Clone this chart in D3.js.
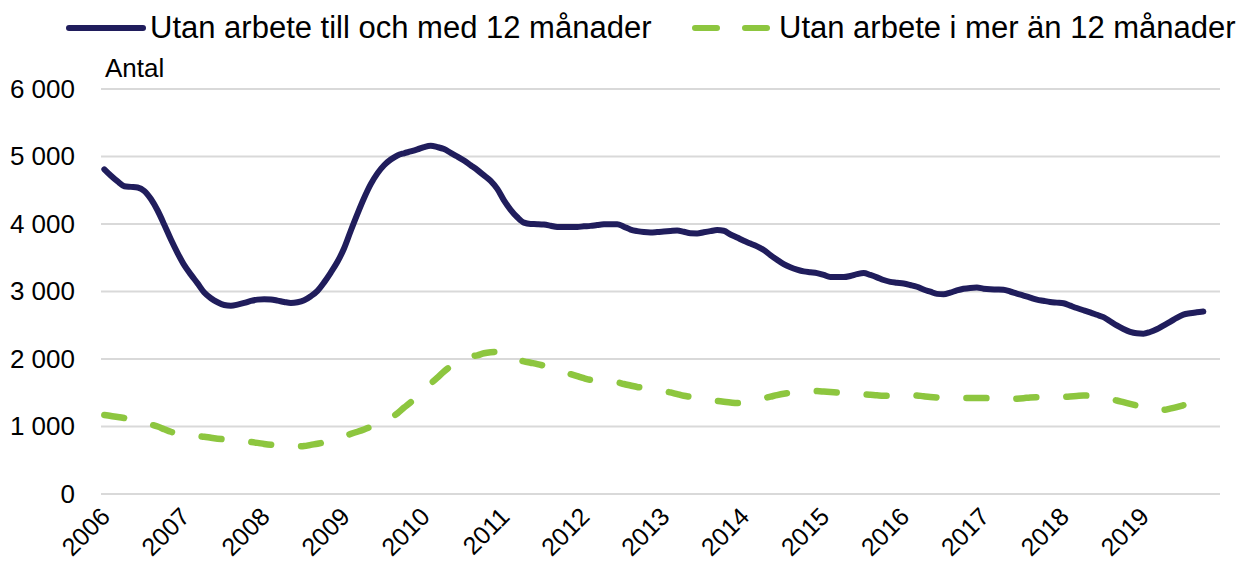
<!DOCTYPE html>
<html>
<head>
<meta charset="utf-8">
<script src="https://cdn.jsdelivr.net/npm/d3@7"></script>
<style>
  body { margin: 0; background: #fff; }
  svg { display: block; font-family: "Liberation Sans", Arial, sans-serif; }
  .grid line { stroke: #d9d9d9; stroke-width: 2; }
</style>
</head>
<body>
<svg class="chart"></svg>
<script>
// categories: months Jan 2006 - Dec 2019
var years = d3.range(2006, 2020).map(String);
var months = [];
years.forEach(function(y) {
  for (var m = 1; m <= 12; m++) months.push(y + "-" + (m < 10 ? "0" + m : m));
});

// Utan arbete till och med 12 månader (monthly, from 2006-01)
var shortTerm = [
  4810, 4715, 4630, 4560, 4550, 4540, 4490, 4370, 4200, 3990, 3770, 3570,
  3390, 3250, 3120, 2985, 2900, 2840, 2800, 2790, 2805, 2830, 2860, 2880,
  2887, 2882, 2865, 2845, 2830, 2840, 2870, 2930, 3010, 3135, 3280, 3440,
  3640, 3900, 4150, 4385, 4590, 4750, 4870, 4955, 5015, 5048, 5075, 5105,
  5140, 5160, 5140, 5110, 5055, 5000, 4940, 4870, 4800, 4720, 4640, 4520,
  4350, 4210, 4100, 4020, 4000, 3998, 3992, 3975, 3956, 3954, 3954, 3956,
  3965, 3972, 3985, 3995, 3998, 3998, 3960, 3918, 3895, 3880, 3874, 3880,
  3888, 3896, 3903, 3885, 3862, 3860, 3878, 3895, 3910, 3900, 3845, 3800,
  3752, 3710, 3668, 3615, 3540, 3470, 3405, 3360, 3325, 3298, 3285, 3273,
  3245, 3215, 3213, 3213, 3230, 3258, 3275, 3245, 3210, 3170, 3143, 3130,
  3118, 3096, 3070, 3030, 2997, 2965, 2960, 2983, 3015, 3040, 3053, 3058,
  3042, 3033, 3030, 3026, 3000, 2968, 2940, 2910, 2880, 2862, 2845, 2835,
  2825, 2790, 2755, 2722, 2690, 2655, 2620, 2560, 2497, 2445, 2402, 2380,
  2375, 2400, 2440, 2495, 2550, 2610, 2658, 2678, 2692, 2704
];

// Utan arbete i mer än 12 månader
var longTerm = [
  1170, 1155, 1142, 1126, 1105, 1078, 1052, 1028, 1000, 960, 922, 900,
  882, 870, 858, 848, 833, 820, 809, 798, 788, 779, 770, 757,
  742, 730, 722, 715, 708, 704, 710, 728, 745, 765, 795, 826,
  860, 890, 922, 956, 995, 1040, 1090, 1130, 1195, 1280, 1360, 1450,
  1540, 1635, 1725, 1815, 1890, 1950, 1995, 2035, 2055, 2085, 2100, 2105,
  2080, 2030, 1990, 1965, 1945, 1925, 1900, 1870, 1835, 1805, 1775, 1745,
  1715, 1690, 1680, 1672, 1665, 1655, 1630, 1608, 1586, 1570, 1552, 1535,
  1522, 1505, 1480, 1455, 1438, 1420, 1405, 1392, 1380, 1368, 1356, 1347,
  1360, 1380, 1400, 1420, 1442, 1465, 1485, 1500, 1510, 1520, 1527, 1525,
  1518, 1510, 1503, 1495, 1488, 1480, 1477, 1470, 1462, 1456, 1457, 1462,
  1468, 1470, 1460, 1448, 1437, 1430, 1427, 1424, 1422, 1421, 1421, 1421,
  1421, 1419, 1414, 1410, 1406, 1412, 1420, 1430, 1435, 1435, 1435, 1435,
  1438, 1445, 1452, 1458, 1455, 1440, 1422, 1406, 1385, 1360, 1335, 1310,
  1285, 1262, 1242, 1245, 1265, 1288, 1315
];

var yTicks = [0, 1000, 2000, 3000, 4000, 5000, 6000];
var seriesNames = ["Utan arbete till och med 12 månader", "Utan arbete i mer än 12 månader"];
var colors = ["#201d5c", "#8dc63f"];

var W = 1243, H = 572;
var margin = {top: 89, right: 23, bottom: 78, left: 101},
    width = W - margin.left - margin.right,
    height = H - margin.top - margin.bottom;

var svg = d3.select(".chart").attr("width", W).attr("height", H);
var g = svg.append("g").attr("transform", "translate(" + margin.left + "," + margin.top + ")");

var x = d3.scaleBand().domain(months).range([0, width]);
var y = d3.scaleLinear().domain([0, 6000]).range([height, 0]);
var xc = function(i) { return x(months[i]) + x.bandwidth() / 2; };

var sv = d3.formatLocale({decimal: ",", thousands: "\u00a0", grouping: [3], currency: ["", " kr"]}).format(",");

// gridlines
g.append("g").attr("class", "grid")
  .selectAll("line").data(yTicks).enter().append("line")
    .attr("x1", 0).attr("x2", width)
    .attr("y1", function(d) { return y(d); })
    .attr("y2", function(d) { return y(d); });

// y labels
var yAxis = d3.axisLeft(y).tickValues(yTicks).tickSize(0).tickPadding(26).tickFormat(sv);
g.append("g").call(yAxis)
  .call(function(a) { a.select(".domain").remove(); })
  .selectAll("text").attr("font-size", 26).attr("fill", "#000")
  .attr("font-family", "Liberation Sans, Arial, sans-serif");

// x labels (one per year)
var xAxis = d3.axisBottom(x).tickValues(years.map(function(yr) { return yr + "-01"; }))
  .tickSize(0).tickFormat(function(d) { return d.slice(0, 4); });
g.append("g").attr("transform", "translate(0," + height + ")").call(xAxis)
  .call(function(a) { a.select(".domain").remove(); })
  .selectAll("text")
    .attr("font-size", 25).attr("fill", "#000")
    .attr("font-family", "Liberation Sans, Arial, sans-serif")
    .attr("text-anchor", "end")
    .attr("transform", "translate(1,18) rotate(-45)")
    .attr("dy", "0.35em").attr("y", 0);

// unit label
g.append("text").attr("x", 4).attr("y", -12).attr("font-size", 26).text("Antal");

var line = d3.line()
  .x(function(d, i) { return xc(i); })
  .y(function(d) { return y(d); })
  .curve(d3.curveMonotoneX);

g.append("path").datum(shortTerm)
  .attr("d", line).attr("fill", "none")
  .attr("stroke", colors[0]).attr("stroke-width", 6)
  .attr("stroke-linecap", "round").attr("stroke-linejoin", "round");

g.append("path").datum(longTerm)
  .attr("d", line).attr("fill", "none")
  .attr("stroke", colors[1]).attr("stroke-width", 6.5)
  .attr("stroke-dasharray", "20,30")
  .attr("stroke-linecap", "round");

// legend
var leg = svg.append("g").attr("font-size", 31);
leg.append("line").attr("x1", 69).attr("x2", 143).attr("y1", 28).attr("y2", 28)
  .attr("stroke", colors[0]).attr("stroke-width", 6).attr("stroke-linecap", "round");
leg.append("text").attr("x", 150).attr("y", 38).text(seriesNames[0]);
leg.append("line").attr("x1", 695).attr("x2", 767).attr("y1", 28).attr("y2", 28)
  .attr("stroke", colors[1]).attr("stroke-width", 6).attr("stroke-linecap", "round")
  .attr("stroke-dasharray", "22,28");
leg.append("text").attr("x", 779).attr("y", 38).text(seriesNames[1]);
</script>
</body>
</html>
